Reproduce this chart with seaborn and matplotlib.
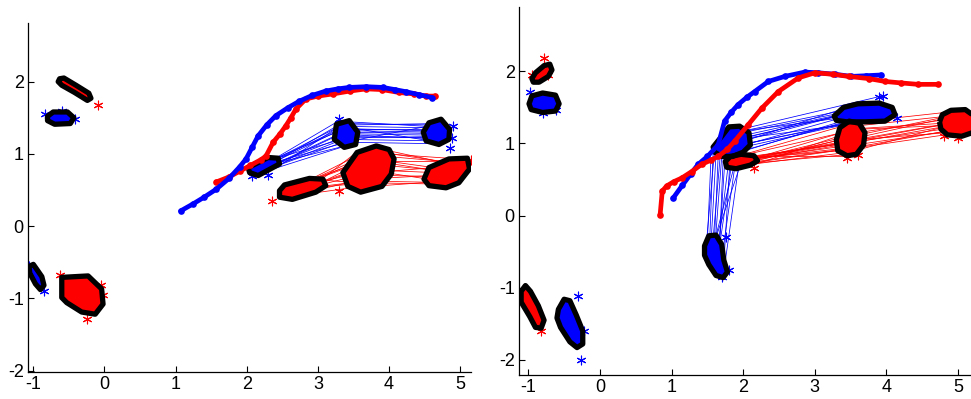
import numpy as np
import pandas as pd
import matplotlib
matplotlib.use("Agg")
import matplotlib.pyplot as plt
from matplotlib.patches import Polygon
import seaborn as sns

sns.set_style("ticks")
plt.rcParams['font.family'] = ['Liberation Sans', 'DejaVu Sans']
plt.rcParams['axes.unicode_minus'] = False

BLUE = (0, 0, 1)
RED = (1, 0, 0)

# ---------------- Left panel data ----------------
L_blue_traj_x = [1.07, 1.25, 1.40, 1.57, 1.75, 1.90, 1.99, 2.08, 2.16, 2.28, 2.41, 2.58, 2.74, 2.92, 3.11, 3.28, 3.44, 3.68, 3.91, 4.08, 4.24, 4.42, 4.60]
L_blue_traj_y = [0.21, 0.31, 0.40, 0.51, 0.66, 0.82, 0.93, 1.10, 1.25, 1.40, 1.53, 1.64, 1.73, 1.81, 1.87, 1.90, 1.92, 1.93, 1.92, 1.89, 1.86, 1.82, 1.78]
L_red_traj_x = [1.57, 1.75, 1.90, 2.05, 2.20, 2.27, 2.37, 2.47, 2.55, 2.62, 2.69, 2.83, 3.00, 3.21, 3.45, 3.68, 3.90, 4.14, 4.35, 4.52, 4.65]
L_red_traj_y = [0.61, 0.68, 0.76, 0.84, 0.92, 0.97, 1.16, 1.28, 1.39, 1.50, 1.62, 1.76, 1.80, 1.83, 1.87, 1.90, 1.89, 1.85, 1.83, 1.80, 1.80]

L_clusters = [
    # (color, xs, ys)
    (RED,  [-0.63, -0.57, -0.40, -0.22, -0.19, -0.24, -0.42, -0.60, -0.65],
           [2.04, 2.05, 1.95, 1.84, 1.77, 1.74, 1.85, 1.95, 2.00]),
    (BLUE, [-0.80, -0.72, -0.52, -0.43, -0.48, -0.70, -0.80],
           [1.52, 1.58, 1.58, 1.50, 1.42, 1.41, 1.46]),
    (BLUE, [-1.06, -1.00, -0.95, -0.88, -0.85, -0.90, -0.97, -1.05],
           [-0.56, -0.53, -0.60, -0.70, -0.82, -0.88, -0.80, -0.65]),
    (RED,  [-0.60, -0.23, -0.04, -0.02, -0.13, -0.32, -0.53, -0.60],
           [-0.71, -0.69, -0.87, -1.08, -1.22, -1.19, -1.06, -0.99]),
    (BLUE, [2.02, 2.04, 2.16, 2.46, 2.44, 2.30],
           [0.81, 0.74, 0.70, 0.86, 0.94, 0.95]),
    (BLUE, [3.26, 3.44, 3.56, 3.53, 3.37, 3.23],
           [1.41, 1.46, 1.30, 1.13, 1.09, 1.20]),
    (BLUE, [4.56, 4.73, 4.85, 4.84, 4.70, 4.52, 4.48],
           [1.43, 1.48, 1.34, 1.20, 1.13, 1.18, 1.30]),
    (RED,  [4.07, 4.00, 3.82, 3.55, 3.35, 3.42, 3.60, 3.90, 4.03],
           [0.93, 1.06, 1.11, 1.02, 0.74, 0.55, 0.47, 0.55, 0.72]),
    (RED,  [2.46, 2.53, 2.88, 3.07, 3.11, 2.97, 2.64, 2.46],
           [0.49, 0.57, 0.66, 0.65, 0.56, 0.47, 0.37, 0.40]),
    (RED,  [4.56, 4.84, 5.10, 5.13, 4.98, 4.80, 4.56, 4.49],
           [0.81, 0.93, 0.94, 0.79, 0.60, 0.53, 0.56, 0.65]),
]

# connection bundles: start x, start y, end x, end y
LB1_x0 = [2.30, 2.35, 2.40, 2.42, 2.38, 2.33, 2.28, 2.44, 2.36, 2.40, 2.26, 2.45, 2.32, 2.41, 2.37, 2.29]
LB1_y0 = [0.88, 0.90, 0.86, 0.84, 0.82, 0.86, 0.90, 0.88, 0.92, 0.80, 0.85, 0.83, 0.81, 0.89, 0.87, 0.84]
LB1_x1 = [3.28, 3.30, 3.35, 3.40, 3.32, 3.45, 3.50, 3.27, 3.38, 3.42, 3.25, 3.36, 3.31, 3.47, 3.29, 3.34]
LB1_y1 = [1.45, 1.38, 1.30, 1.22, 1.15, 1.40, 1.25, 1.20, 1.35, 1.12, 1.32, 1.42, 1.27, 1.18, 1.40, 1.10]
LB2_x0 = [3.40, 3.45, 3.50, 3.38, 3.48, 3.42, 3.52, 3.36, 3.46, 3.55, 3.44, 3.50, 3.39, 3.53, 3.47, 3.41]
LB2_y0 = [1.42, 1.38, 1.32, 1.28, 1.24, 1.20, 1.16, 1.35, 1.40, 1.26, 1.30, 1.44, 1.22, 1.34, 1.18, 1.37]
LB2_x1 = [4.60, 4.65, 4.70, 4.55, 4.75, 4.62, 4.68, 4.58, 4.72, 4.80, 4.85, 4.90, 4.64, 4.77, 4.53, 4.70]
LB2_y1 = [1.40, 1.36, 1.30, 1.26, 1.22, 1.18, 1.14, 1.32, 1.42, 1.20, 1.28, 1.36, 1.24, 1.34, 1.38, 1.16]
LR1_x0 = [2.70, 2.80, 2.90, 3.00, 2.75, 2.85, 2.95, 3.05, 2.65, 3.08, 2.88, 2.78, 2.60, 2.98, 2.82, 3.02]
LR1_y0 = [0.55, 0.60, 0.62, 0.60, 0.50, 0.52, 0.56, 0.55, 0.48, 0.62, 0.45, 0.58, 0.53, 0.50, 0.47, 0.64]
LR1_x1 = [3.50, 3.60, 3.70, 3.80, 3.55, 3.65, 3.75, 3.85, 3.45, 3.90, 3.62, 3.72, 3.40, 3.95, 3.58, 3.82]
LR1_y1 = [0.90, 1.00, 0.95, 0.80, 0.70, 0.60, 0.85, 0.65, 0.75, 1.02, 0.55, 0.92, 0.82, 0.72, 1.05, 0.58]
LR2_x0 = [3.60, 3.70, 3.80, 3.90, 3.65, 3.75, 3.85, 3.95, 3.55, 4.00, 3.72, 3.82, 3.68, 3.88, 3.78, 3.92]
LR2_y0 = [0.95, 1.05, 0.90, 0.75, 0.65, 0.55, 0.85, 1.00, 0.80, 0.70, 0.60, 1.08, 0.78, 0.62, 0.98, 0.88]
LR2_x1 = [4.70, 4.85, 5.00, 5.10, 4.60, 4.75, 4.90, 5.12, 4.55, 5.05, 4.80, 5.15, 4.66, 4.95, 5.08, 4.58]
LR2_y1 = [0.80, 0.88, 0.90, 0.85, 0.70, 0.62, 0.75, 0.92, 0.65, 0.68, 0.58, 0.80, 0.74, 0.60, 0.87, 0.78]

L_blue_star_x = [-0.83, -0.60, -0.41, -1.06, -0.85, 2.08, 2.30, 3.30, 4.90, 4.85, 4.88]
L_blue_star_y = [1.55, 1.60, 1.48, -0.55, -0.90, 0.70, 0.71, 1.48, 1.38, 1.08, 1.22]
L_red_star_x = [-0.09, -0.62, -0.05, -0.02, -0.24, 2.35, 5.15, 3.30]
L_red_star_y = [1.68, -0.68, -0.82, -0.95, -1.28, 0.35, 0.92, 0.48]

# ---------------- Right panel data ----------------
R_blue_traj_x = [1.02, 1.15, 1.27, 1.37, 1.50, 1.65, 1.74, 1.83, 1.93, 2.05, 2.16, 2.35, 2.58, 2.86, 3.05, 3.28, 3.51, 3.72, 3.93]
R_blue_traj_y = [0.24, 0.42, 0.58, 0.71, 0.82, 0.98, 1.31, 1.43, 1.54, 1.64, 1.72, 1.86, 1.93, 1.99, 1.98, 1.96, 1.93, 1.94, 1.95]
R_red_traj_x = [0.84, 0.87, 0.93, 1.03, 1.14, 1.28, 1.42, 1.55, 1.65, 1.78, 1.88, 2.07, 2.26, 2.49, 2.77, 3.00, 3.25, 3.47, 3.75, 3.98, 4.20, 4.44, 4.72]
R_red_traj_y = [0.01, 0.34, 0.41, 0.47, 0.52, 0.61, 0.71, 0.77, 0.82, 0.92, 1.03, 1.26, 1.49, 1.72, 1.91, 1.98, 1.96, 1.93, 1.90, 1.86, 1.84, 1.82, 1.82]

R_clusters = [
    (RED,  [-0.95, -0.90, -0.78, -0.70, -0.67, -0.72, -0.85, -0.93],
           [1.90, 1.98, 2.08, 2.10, 2.02, 1.93, 1.85, 1.85]),
    (BLUE, [-0.99, -0.95, -0.80, -0.62, -0.57, -0.62, -0.80, -0.96],
           [1.55, 1.66, 1.70, 1.67, 1.55, 1.45, 1.43, 1.47]),
    (RED,  [-1.10, -1.04, -0.97, -0.86, -0.78, -0.82, -0.90, -0.98, -1.10],
           [-1.05, -0.97, -1.05, -1.25, -1.45, -1.56, -1.55, -1.40, -1.20]),
    (BLUE, [-0.58, -0.50, -0.42, -0.33, -0.24, -0.24, -0.32, -0.42, -0.55, -0.60],
           [-1.30, -1.16, -1.18, -1.38, -1.60, -1.78, -1.83, -1.75, -1.55, -1.42]),
    (BLUE, [1.46, 1.52, 1.62, 1.70, 1.73, 1.78, 1.72, 1.62, 1.52, 1.46],
           [-0.42, -0.28, -0.27, -0.40, -0.62, -0.78, -0.86, -0.83, -0.68, -0.55]),
    (BLUE, [1.58, 1.70, 1.80, 1.95, 2.08, 2.10, 2.00, 1.85, 1.70, 1.60],
           [0.95, 1.10, 1.23, 1.24, 1.15, 0.98, 0.88, 0.82, 0.82, 0.88]),
    (RED,  [1.75, 1.82, 1.97, 2.15, 2.20, 2.10, 1.90, 1.77],
           [0.75, 0.82, 0.85, 0.83, 0.76, 0.70, 0.65, 0.67]),
    (BLUE, [3.27, 3.40, 3.60, 3.90, 4.08, 4.12, 3.98, 3.70, 3.45, 3.30],
           [1.38, 1.50, 1.55, 1.56, 1.50, 1.40, 1.31, 1.30, 1.30, 1.32]),
    (RED,  [3.30, 3.35, 3.48, 3.62, 3.70, 3.68, 3.58, 3.45, 3.32],
           [1.05, 1.22, 1.31, 1.28, 1.15, 0.98, 0.85, 0.83, 0.90]),
    (RED,  [4.74, 4.78, 4.90, 5.10, 5.20, 5.20, 5.05, 4.85, 4.76],
           [1.30, 1.40, 1.46, 1.47, 1.40, 1.15, 1.10, 1.12, 1.20]),
]

RB1_x0 = [1.85, 1.90, 1.95, 2.00, 2.05, 1.80, 1.88, 1.98, 2.08, 1.92, 2.02, 1.75, 1.83, 1.96, 2.04, 1.78]
RB1_y0 = [1.00, 1.05, 1.10, 0.95, 1.00, 0.92, 1.15, 1.20, 1.08, 0.88, 0.90, 1.02, 1.12, 0.98, 1.18, 0.96]
RB1_x1 = [3.40, 3.60, 3.80, 3.95, 4.10, 3.35, 3.70, 3.90, 4.15, 3.50, 3.95, 3.30, 3.55, 3.75, 4.00, 3.45]
RB1_y1 = [1.40, 1.45, 1.50, 1.38, 1.42, 1.35, 1.52, 1.65, 1.36, 1.32, 1.48, 1.38, 1.46, 1.34, 1.44, 1.50]
RB2_x0 = [1.50, 1.55, 1.60, 1.65, 1.70, 1.52, 1.58, 1.64, 1.68, 1.74, 1.56, 1.62, 1.48, 1.66, 1.72, 1.54]
RB2_y0 = [-0.35, -0.40, -0.50, -0.45, -0.60, -0.65, -0.75, -0.80, -0.35, -0.70, -0.55, -0.30, -0.45, -0.62, -0.82, -0.58]
RB2_x1 = [1.55, 1.62, 1.70, 1.80, 1.90, 1.58, 1.65, 1.75, 1.85, 1.95, 1.68, 2.00, 1.60, 1.72, 1.82, 1.92]
RB2_y1 = [0.80, 0.85, 0.82, 0.78, 0.80, 0.88, 0.82, 0.86, 0.80, 0.78, 0.84, 0.82, 0.90, 0.78, 0.84, 0.86]
RR1_x0 = [1.90, 1.95, 2.00, 2.05, 2.10, 2.15, 1.92, 2.02, 2.12, 1.98, 2.08, 2.18, 1.88, 2.06, 2.14, 1.96]
RR1_y0 = [0.78, 0.80, 0.75, 0.72, 0.78, 0.80, 0.82, 0.70, 0.74, 0.84, 0.82, 0.76, 0.72, 0.78, 0.70, 0.76]
RR1_x1 = [3.35, 3.40, 3.45, 3.50, 3.55, 3.60, 3.38, 3.48, 3.58, 3.42, 3.52, 3.62, 3.36, 3.46, 3.56, 3.65]
RR1_y1 = [0.90, 1.00, 1.10, 0.85, 1.20, 1.05, 1.15, 0.88, 0.95, 1.25, 0.82, 1.12, 1.05, 0.94, 1.18, 1.00]
RR2_x0 = [2.00, 2.10, 2.20, 3.55, 3.60, 3.65, 3.50, 3.58, 3.68, 2.05, 3.62, 3.70, 2.15, 3.52, 3.66, 3.56]
RR2_y0 = [0.80, 0.76, 0.82, 1.05, 1.15, 1.25, 1.20, 0.95, 1.10, 0.72, 1.30, 1.00, 0.78, 1.10, 1.20, 0.90]
RR2_x1 = [4.80, 4.90, 5.00, 4.85, 4.95, 5.05, 4.78, 5.10, 5.15, 4.82, 5.00, 4.92, 5.12, 4.88, 5.08, 4.76]
RR2_y1 = [1.20, 1.25, 1.30, 1.15, 1.35, 1.40, 1.28, 1.22, 1.42, 1.12, 1.45, 1.18, 1.32, 1.38, 1.26, 1.22]

R_blue_star_x = [-0.98, -0.80, -0.62, -0.30, -0.22, -0.27, 1.76, 1.80, 1.70, 3.95, 4.15, 3.90]
R_blue_star_y = [1.72, 1.42, 1.47, -1.12, -1.60, -2.00, -0.30, -0.75, -0.85, 1.66, 1.36, 1.65]
R_red_star_x = [-0.78, -0.95, -1.15, -0.82, -0.72, 2.15, 3.45, 3.60, 5.00, 4.80]
R_red_star_y = [2.18, 1.95, -1.14, -1.60, 1.95, 0.66, 0.80, 0.84, 1.08, 1.10]

# ---------------- Figure ----------------
fig = plt.figure(figsize=(9.71, 3.99), dpi=100)
axL = fig.add_axes([0.0288, 0.0677, 0.4562, 0.8743])
axR = fig.add_axes([0.5345, 0.0602, 0.4655, 0.9218])

ASTER = (6, 2, 0)


def bundle(ax, x0, y0, x1, y1, color):
    xs = np.array([x0, x1])
    ys = np.array([y0, y1])
    ax.plot(xs, ys, color=color, lw=0.55, zorder=1)


def draw_panel(ax, clusters, bundles, stars, trajs, xlim, ylim):
    for b in bundles:
        bundle(ax, *b)
    for col, xs, ys in clusters:
        pts = np.column_stack([xs, ys])
        ax.add_patch(Polygon(pts, closed=True, facecolor=col, edgecolor='none', zorder=2))
        ax.add_patch(Polygon(pts, closed=True, facecolor='none', edgecolor='black',
                             lw=3.8, joinstyle='round', zorder=4))
    for sx, sy, col in stars:
        df = pd.DataFrame({'x': sx, 'y': sy})
        sns.scatterplot(data=df, x='x', y='y', ax=ax, marker=ASTER, s=40,
                        color=col, linewidth=0.8, zorder=3, legend=False)
    for tx, ty, col in trajs:
        df = pd.DataFrame({'x': tx, 'y': ty})
        sns.lineplot(data=df, x='x', y='y', ax=ax, sort=False, estimator=None,
                     color=col, lw=3.4, marker='o', markersize=4.8,
                     markeredgewidth=0, zorder=5)
    ax.set_xlim(*xlim)
    ax.set_ylim(*ylim)
    ax.set_xticks([-1, 0, 1, 2, 3, 4, 5])
    ax.set_yticks([-2, -1, 0, 1, 2])
    ax.set_xticklabels(['-1', '0', '1', '2', '3', '4', '5'])
    ax.set_yticklabels(['-2', '-1', '0', '1', '2'])
    ax.set_xlabel('')
    ax.set_ylabel('')
    ax.tick_params(direction='in', length=4, width=0.8, labelsize=13, pad=3, colors='black')
    for s in ['top', 'right']:
        ax.spines[s].set_visible(False)
    for s in ['left', 'bottom']:
        ax.spines[s].set_linewidth(0.9)
        ax.spines[s].set_color('black')
    ax.set_facecolor('white')


draw_panel(axL, L_clusters,
           [(LB1_x0, LB1_y0, LB1_x1, LB1_y1, BLUE), (LB2_x0, LB2_y0, LB2_x1, LB2_y1, BLUE),
            (LR1_x0, LR1_y0, LR1_x1, LR1_y1, RED), (LR2_x0, LR2_y0, LR2_x1, LR2_y1, RED)],
           [(L_blue_star_x, L_blue_star_y, BLUE), (L_red_star_x, L_red_star_y, RED)],
           [(L_red_traj_x, L_red_traj_y, RED), (L_blue_traj_x, L_blue_traj_y, BLUE)],
           (-1.075, 5.15), (-2.02, 2.81))

draw_panel(axR, R_clusters,
           [(RB1_x0, RB1_y0, RB1_x1, RB1_y1, BLUE), (RB2_x0, RB2_y0, RB2_x1, RB2_y1, BLUE),
            (RR1_x0, RR1_y0, RR1_x1, RR1_y1, RED), (RR2_x0, RR2_y0, RR2_x1, RR2_y1, RED)],
           [(R_blue_star_x, R_blue_star_y, BLUE), (R_red_star_x, R_red_star_y, RED)],
           [(R_blue_traj_x, R_blue_traj_y, BLUE), (R_red_traj_x, R_red_traj_y, RED)],
           (-1.13, 5.18), (-2.21, 2.89))

fig.savefig('out.png', dpi=100, facecolor='white')
